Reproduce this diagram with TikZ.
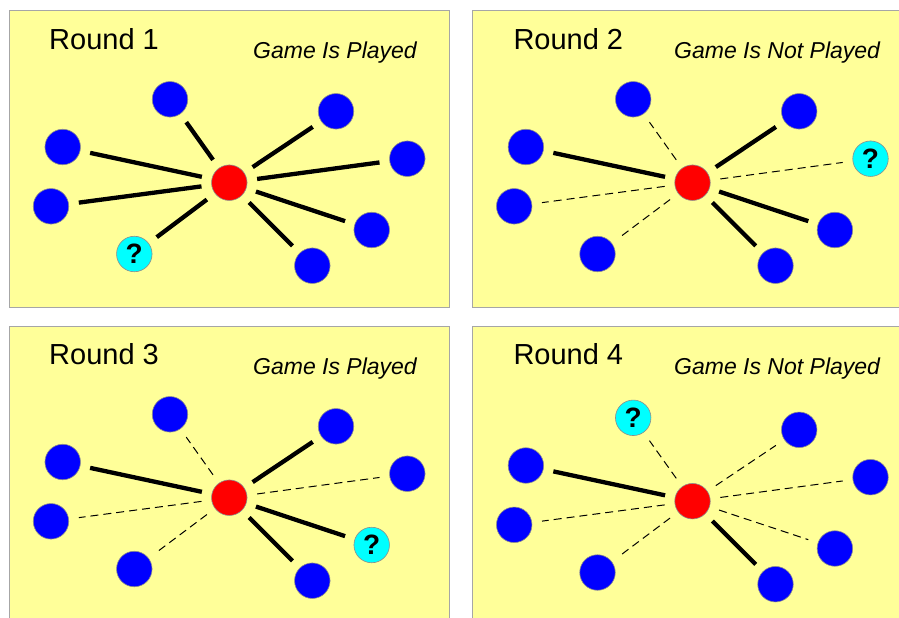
\documentclass[tikz,border=0pt]{standalone}
\usepackage{fontspec}
\setmainfont{Liberation Sans}
\usepackage{xcolor}

\definecolor{panelyellow}{HTML}{FFFF99}
\definecolor{panelgray}{HTML}{A6A6A6}
\definecolor{nodegray}{HTML}{8C8C8C}
\definecolor{hubred}{HTML}{FF0000}
\definecolor{playerblue}{HTML}{0000FF}
\definecolor{unknowncyan}{HTML}{00FFFF}

\begin{document}
\begin{tikzpicture}[x=1pt, y=-1pt,
    panel/.style={draw=panelgray, fill=panelyellow, line width=1pt},
    roundlabel/.style={anchor=base west, inner sep=0, font=\fontsize{29}{31}\selectfont},
    status/.style={anchor=base east, inner sep=0, font=\fontsize{23}{25}\selectfont\itshape},
    hub/.style={circle, draw=nodegray, line width=0.6pt, fill=hubred, minimum size=35.5pt, inner sep=0},
    player/.style={hub, fill=playerblue},
    unknown/.style={hub, fill=unknowncyan, font=\fontsize{28}{28}\selectfont\bfseries},
    link/.style={line width=4.3pt, shorten <=10pt, shorten >=10pt},
    nolink/.style={line width=1pt, dash pattern=on 8pt off 5pt, shorten <=10pt, shorten >=10pt}
]
    \useasboundingbox (0,0) rectangle (899,618);
    \clip (0,0) rectangle (899,618);

    % Round 1: every tie is played
    \begin{scope}[shift={(9.5,11)}]
        \draw[panel] (0,0) rectangle (439.5,296);
        \node[roundlabel] (title1) at (39.5,38.3) {Round 1};
        \node[status] (status1) at (407.5,48) {Game Is Played};
        \node[hub] (hub1) at (219.8,171.7) {};
        \node[player] (top1) at (160.5,88.3) {};
        \node[player] (upl1) at (53.2,136) {};
        \node[player] (lowl1) at (41.5,195.3) {};
        \node[unknown] (botl1) at (124.8,243) {?};
        \node[player] (bot1) at (302.8,254.7) {};
        \node[player] (lowr1) at (362.2,219) {};
        \node[player] (rgt1) at (397.8,147.7) {};
        \node[player] (upr1) at (326.5,100.3) {};
        \draw[link] (hub1) -- (top1);
        \draw[link] (hub1) -- (upl1);
        \draw[link] (hub1) -- (lowl1);
        \draw[link] (hub1) -- (botl1);
        \draw[link] (hub1) -- (bot1);
        \draw[link] (hub1) -- (lowr1);
        \draw[link] (hub1) -- (rgt1);
        \draw[link] (hub1) -- (upr1);
    \end{scope}

    % Round 2
    \begin{scope}[shift={(472.7,11)}]
        \draw[panel] (0,0) rectangle (439.5,296);
        \node[roundlabel] (title2) at (40.6,38.3) {Round 2};
        \node[status] (status2) at (407.5,48) {Game Is Not Played};
        \node[hub] (hub2) at (219.8,171.7) {};
        \node[player] (top2) at (160.5,88.3) {};
        \node[player] (upl2) at (53.2,136) {};
        \node[player] (lowl2) at (41.5,195.3) {};
        \node[player] (botl2) at (124.8,243) {};
        \node[player] (bot2) at (302.8,254.7) {};
        \node[player] (lowr2) at (362.2,219) {};
        \node[unknown] (rgt2) at (397.8,147.7) {?};
        \node[player] (upr2) at (326.5,100.3) {};
        \draw[nolink] (hub2) -- (top2);
        \draw[link] (hub2) -- (upl2);
        \draw[nolink] (hub2) -- (lowl2);
        \draw[nolink] (hub2) -- (botl2);
        \draw[link] (hub2) -- (bot2);
        \draw[link] (hub2) -- (lowr2);
        \draw[nolink] (hub2) -- (rgt2);
        \draw[link] (hub2) -- (upr2);
    \end{scope}

    % Round 3
    \begin{scope}[shift={(9.5,326)}]
        \draw[panel] (0,0) rectangle (439.5,296);
        \node[roundlabel] (title3) at (39.5,38.3) {Round 3};
        \node[status] (status3) at (407.5,48) {Game Is Played};
        \node[hub] (hub3) at (219.8,171.7) {};
        \node[player] (top3) at (160.5,88.3) {};
        \node[player] (upl3) at (53.2,136) {};
        \node[player] (lowl3) at (41.5,195.3) {};
        \node[player] (botl3) at (124.8,243) {};
        \node[player] (bot3) at (302.8,254.7) {};
        \node[unknown] (lowr3) at (362.2,219) {?};
        \node[player] (rgt3) at (397.8,147.7) {};
        \node[player] (upr3) at (326.5,100.3) {};
        \draw[nolink] (hub3) -- (top3);
        \draw[link] (hub3) -- (upl3);
        \draw[nolink] (hub3) -- (lowl3);
        \draw[nolink] (hub3) -- (botl3);
        \draw[link] (hub3) -- (bot3);
        \draw[link] (hub3) -- (lowr3);
        \draw[nolink] (hub3) -- (rgt3);
        \draw[link] (hub3) -- (upr3);
    \end{scope}

    % Round 4
    \begin{scope}[shift={(472.7,326)}]
        \draw[panel] (0,0) rectangle (439.5,296);
        \node[roundlabel] (title4) at (40.6,38.3) {Round 4};
        \node[status] (status4) at (407.5,48) {Game Is Not Played};
        \node[hub] (hub4) at (219.8,175.2) {};
        \node[unknown] (top4) at (160.5,91.8) {?};
        \node[player] (upl4) at (53.2,139.5) {};
        \node[player] (lowl4) at (41.5,198.8) {};
        \node[player] (botl4) at (124.8,246.5) {};
        \node[player] (bot4) at (302.8,258.2) {};
        \node[player] (lowr4) at (362.2,222.5) {};
        \node[player] (rgt4) at (397.8,151.2) {};
        \node[player] (upr4) at (326.5,103.8) {};
        \draw[nolink] (hub4) -- (top4);
        \draw[link] (hub4) -- (upl4);
        \draw[nolink] (hub4) -- (lowl4);
        \draw[nolink] (hub4) -- (botl4);
        \draw[link] (hub4) -- (bot4);
        \draw[nolink] (hub4) -- (lowr4);
        \draw[nolink] (hub4) -- (rgt4);
        \draw[nolink] (hub4) -- (upr4);
    \end{scope}
\end{tikzpicture}
\end{document}
